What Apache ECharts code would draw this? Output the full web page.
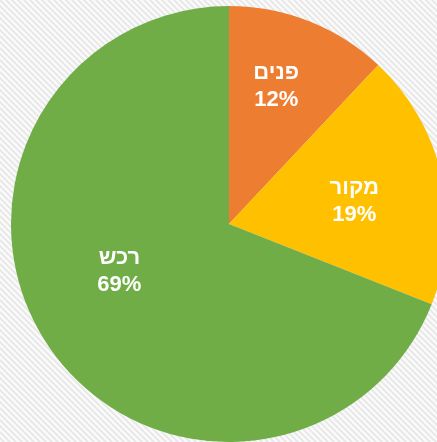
<!DOCTYPE html>
<html>
<head>
<meta charset="utf-8">
<script src="https://cdn.jsdelivr.net/npm/echarts@6/dist/echarts.min.js"></script>
<style>
  html, body { margin: 0; padding: 0; }
  #chart { width: 437px; height: 442px; }
</style>
</head>
<body>
<div id="chart"></div>
<script>
// נתונים
const categories = ['פנים', 'מקור', 'רכש']
const values = [12, 19, 69]
const colors = ['#ED7D31', '#FFC000', '#70AD47']
// הזזת תוויות (כמו באקסל)
const labelOffsets = [[6, -33], [16, 2], [-17, -16]]

// רקע עם פסים אלכסוניים
function stripePattern() {
  const c = document.createElement('canvas')
  c.width = 6
  c.height = 6
  const ctx = c.getContext('2d')
  ctx.fillStyle = '#fbfbfb'
  ctx.fillRect(0, 0, 6, 6)
  ctx.strokeStyle = '#e8e8e8'
  ctx.lineWidth = 2
  ctx.beginPath()
  ctx.moveTo(-1, -1); ctx.lineTo(7, 7)
  ctx.moveTo(-4, 2); ctx.lineTo(4, 10)
  ctx.moveTo(2, -4); ctx.lineTo(10, 4)
  ctx.stroke()
  return c
}

const chart = echarts.init(document.getElementById('chart'))
chart.setOption({
  backgroundColor: { image: stripePattern(), repeat: 'repeat' },
  animation: false,
  series: [
    {
      type: 'pie',
      center: [229, 224],
      radius: 218,
      startAngle: 90,
      clockwise: true,
      data: categories.map((name, i) => ({
        name,
        value: values[i],
        itemStyle: { color: colors[i] },
        label: { offset: labelOffsets[i] },
      })),
      label: {
        show: true,
        position: 'inside',
        formatter: p => p.name + '\n' + p.value + '%',
        color: '#ffffff',
        fontFamily: 'Liberation Sans, Arial, sans-serif',
        fontWeight: 'bold',
        fontSize: 22,
        lineHeight: 27,
      },
      labelLine: { show: false },
      emphasis: { disabled: true },
    },
  ],
})
</script>
</body>
</html>
